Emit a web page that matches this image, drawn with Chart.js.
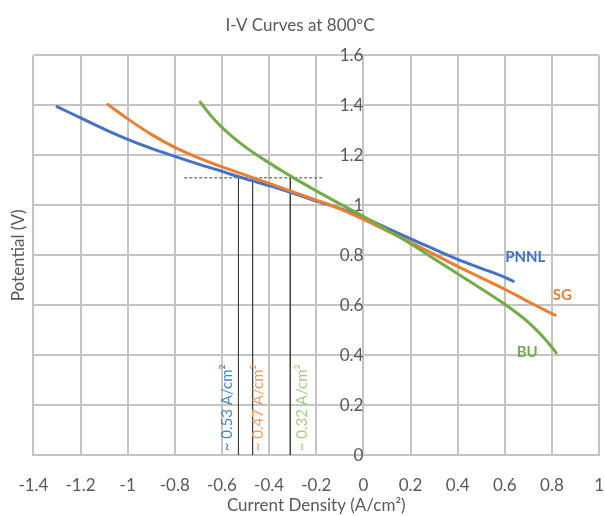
<!DOCTYPE html>
<html>
<head>
<meta charset="utf-8">
<script src="https://cdn.jsdelivr.net/npm/chart.js@4"></script>
<style>
  html, body { margin: 0; padding: 0; background: #fff; }
</style>
</head>
<body>
<canvas id="ivChart" width="604" height="516"></canvas>
<script>
// I-V curves at 800C, three cells
const pnnlX = [-1.30, -1.2, -1.1, -1.0, -0.9, -0.8, -0.7, -0.6, -0.5, -0.4, -0.3, -0.2, -0.1, 0, 0.1, 0.2, 0.3, 0.4, 0.5, 0.6, 0.636];
const pnnlY = [1.395, 1.350, 1.305, 1.264, 1.228, 1.196, 1.165, 1.136, 1.106, 1.079, 1.049, 1.017, 0.988, 0.952, 0.909, 0.866, 0.825, 0.784, 0.748, 0.712, 0.696];

const sgX = [-1.085, -1.0, -0.9, -0.8, -0.7, -0.6, -0.5, -0.4, -0.3, -0.2, -0.1, 0, 0.1, 0.2, 0.3, 0.4, 0.5, 0.6, 0.7, 0.814];
const sgY = [1.404, 1.346, 1.284, 1.232, 1.190, 1.154, 1.121, 1.088, 1.054, 1.021, 0.986, 0.944, 0.898, 0.852, 0.804, 0.756, 0.710, 0.664, 0.614, 0.560];

const buX = [-0.692, -0.65, -0.6, -0.55, -0.5, -0.45, -0.4, -0.35, -0.3, -0.2, -0.1, 0, 0.1, 0.2, 0.3, 0.4, 0.5, 0.6, 0.65, 0.7, 0.75, 0.8, 0.818];
const buY = [1.413, 1.362, 1.312, 1.270, 1.233, 1.200, 1.170, 1.140, 1.112, 1.058, 1.006, 0.956, 0.902, 0.846, 0.786, 0.726, 0.666, 0.604, 0.570, 0.532, 0.486, 0.432, 0.410];

const seriesNames = ['PNNL', 'SG', 'BU'];

// current density where each curve crosses 1.11 V
const crossV = 1.11;
const crossX = [-0.53, -0.47, -0.31];
const crossText = ['~ 0.53 A/cm²', '~ 0.47 A/cm²', '~ 0.32 A/cm²'];
const dashRange = [-0.76, -0.17];

const xTicks = [-1.4, -1.2, -1, -0.8, -0.6, -0.4, -0.2, 0, 0.2, 0.4, 0.6, 0.8, 1];
const yTicks = [0, 0.2, 0.4, 0.6, 0.8, 1, 1.2, 1.4, 1.6];

const COLORS = ['#4472c4', '#ed7d31', '#70ad47'];
const TEXT_COLORS = ['#3f87d3', '#f39a5b', '#a3d07f'];
const GRID = '#c4c4c4';
const FONT = 'Lato, "Open Sans", sans-serif';

const pts = (xs, ys) => xs.map((x, i) => ({ x, y: ys[i] }));
const fmt = v => String(Math.round(v * 10) / 10);

function curve(label, xs, ys, color, order) {
  return {
    label, data: pts(xs, ys), showLine: true, borderColor: color,
    borderWidth: 3, pointRadius: 0, cubicInterpolationMode: 'monotone', fill: false,
    borderCapStyle: 'round', order
  };
}

const guideSets = crossX.map(x => ({
  label: 'guide', data: [{ x, y: crossV }, { x, y: 0 }], showLine: true,
  borderColor: '#404040', borderWidth: 1, pointRadius: 0, order: 10
}));
guideSets.push({
  label: 'guide', data: [{ x: dashRange[0], y: crossV }, { x: dashRange[1], y: crossV }],
  showLine: true, borderColor: '#404040', borderWidth: 1, borderDash: [3, 2],
  pointRadius: 0, order: 10
});

// series names next to curve ends + rotated crossing labels
const labelPlugin = {
  id: 'labels',
  afterDatasetsDraw(chart) {
    const ctx = chart.ctx;
    const xs = chart.scales.x, ys = chart.scales.y;
    const ends = [[pnnlX, pnnlY], [sgX, sgY], [buX, buY]];
    const offs = [[12, -24], [7, -20], [-29, -1]];
    ctx.save();
    ctx.font = 'bold 15px ' + FONT;
    ctx.textAlign = 'center';
    ctx.textBaseline = 'middle';
    ends.forEach(([ax, ay], i) => {
      const n = ax.length - 1;
      ctx.fillStyle = COLORS[i];
      ctx.fillText(seriesNames[i], xs.getPixelForValue(ax[n]) + offs[i][0], ys.getPixelForValue(ay[n]) + offs[i][1]);
    });
    const dx = [-11, 6, 12];
    ctx.font = '15px ' + FONT;
    ctx.textAlign = 'left';
    crossX.forEach((x, i) => {
      ctx.save();
      ctx.translate(xs.getPixelForValue(x) + dx[i], ys.getPixelForValue(0) - 4);
      ctx.rotate(-Math.PI / 2);
      ctx.fillStyle = TEXT_COLORS[i];
      ctx.fillText(crossText[i], 0, 0);
      ctx.restore();
    });
    ctx.restore();
  }
};

new Chart(document.getElementById('ivChart'), {
  type: 'scatter',
  data: {
    datasets: [
      curve('BU', buX, buY, COLORS[2], 1),
      curve('SG', sgX, sgY, COLORS[1], 2),
      curve('PNNL', pnnlX, pnnlY, COLORS[0], 3),
      ...guideSets
    ]
  },
  options: {
    responsive: false,
    animation: false,
    layout: { padding: { right: 4, bottom: 0, left: 0, top: 0 } },
    plugins: {
      legend: { display: false },
      tooltip: { enabled: false },
      title: {
        display: true, text: 'I-V Curves at 800ºC', color: '#595959',
        font: { family: FONT, size: 17, weight: 'normal' },
        padding: { top: 15, bottom: 20 }
      }
    },
    scales: {
      x: {
        type: 'linear', position: 'bottom', min: -1.4, max: 1,
        afterBuildTicks: s => { s.ticks = xTicks.map(v => ({ value: v })); },
        // invisible tick marks push labels down without adding side padding
        grid: { color: GRID, lineWidth: 2, drawTicks: true, tickLength: 20, tickColor: 'rgba(0,0,0,0)' },
        border: { color: GRID, width: 2 },
        ticks: { color: '#595959', padding: 0, font: { family: FONT, size: 17 }, callback: fmt },
        title: {
          display: true, text: 'Current Density (A/cm²)', color: '#595959',
          font: { family: FONT, size: 17 }, padding: 0
        }
      },
      y: {
        type: 'linear', position: { x: 0 }, min: 0, max: 1.6,
        afterBuildTicks: s => { s.ticks = yTicks.map(v => ({ value: v })); },
        afterFit: s => { s.width = 0; },
        grid: { color: GRID, lineWidth: 2, drawTicks: false },
        border: { color: GRID, width: 2 },
        ticks: { color: '#595959', padding: 18, font: { family: FONT, size: 17 }, callback: fmt }
      },
      yTitle: {
        type: 'linear', position: 'left', min: 0, max: 1.6,
        grid: { display: false, drawTicks: false },
        border: { display: false },
        ticks: { display: false },
        title: {
          display: true, text: 'Potential (V)', color: '#595959',
          font: { family: FONT, size: 17 }, padding: { top: 8, bottom: 5 }
        }
      }
    }
  },
  plugins: [labelPlugin]
});
</script>
</body>
</html>
